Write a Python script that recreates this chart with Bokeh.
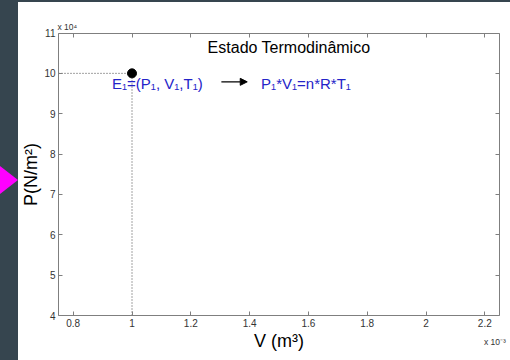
from bokeh.plotting import figure
from bokeh.models import (Range1d, FixedTicker, CustomJSTickFormatter, LinearAxis,
                          Label, Arrow, NormalHead, Div)
from bokeh.layouts import row, column
from bokeh.embed import file_html
from bokeh.resources import INLINE

# ---- data ----
V_state = [1.0e-3]          # V1 (m^3)
P_state = [1.0e5]           # P1 (N/m^2)
x_ticks = [0.8e-3, 1.0e-3, 1.2e-3, 1.4e-3, 1.6e-3, 1.8e-3, 2.0e-3, 2.2e-3]
y_ticks = [4e4, 5e4, 6e4, 7e4, 8e4, 9e4, 10e4, 11e4]
x_lim = [0.75e-3, 2.25e-3]
y_lim = [4e4, 11e4]
title_text = "Estado Termodinâmico"
state_text = "E₁=(P₁, V₁,T₁)"
eq_text = "P₁*V₁=n*R*T₁"
x_label = "V (m³)"
y_label = "P(N/m²)"
x_mult = "x 10⁻³"
y_mult = "x 10⁴"

FONT = "Liberation Sans"
DARK = "#36454f"
GRAY = "#7f7f7f"
BLUE = "#2424c8"

# ---- layout geometry (pixels of the axes box inside the chart canvas) ----
W, H = 492, 358
BOX_L, BOX_R, BOX_T, BOX_B = 40, 481, 30.5, 313
sx = (x_lim[1] - x_lim[0]) / (BOX_R - BOX_L)
sy = (y_lim[1] - y_lim[0]) / (BOX_B - BOX_T)
x_range = Range1d(x_lim[0] - BOX_L * sx, x_lim[1] + (W - BOX_R) * sx)
y_range = Range1d(y_lim[0] - (H - BOX_B) * sy, y_lim[1] + BOX_T * sy)

# ---- dark page strips with the magenta pointer ----
pointer = ('<div style="margin:0;padding:0;position:absolute;left:0;top:166px;width:0;height:0;'
           'border-top:14px solid transparent;border-bottom:14px solid transparent;'
           'border-left:18px solid #ff00ff;"></div>')
side = Div(text=pointer, width=18, height=360, margin=0,
           styles={"background-color": DARK, "position": "relative", "overflow": "hidden"})
top_strip = Div(text="", width=W, height=2, margin=0,
                styles={"background-color": DARK})

# ---- main chart ----
p = figure(width=W, height=H, x_range=x_range, y_range=y_range,
           output_backend="svg", toolbar_location=None, min_border=0,
           min_border_left=0, min_border_right=0, min_border_top=0, min_border_bottom=0)
p.grid.visible = False
p.background_fill_color = "white"
p.border_fill_color = "white"
p.outline_line_color = None

xfmt = CustomJSTickFormatter(code="return String(Math.round(tick*1e4)/10);")
yfmt = CustomJSTickFormatter(code="return String(Math.round(tick/1e4));")
blank = CustomJSTickFormatter(code="return '';")


def style(ax, ticks, fmt):
    ax.ticker = FixedTicker(ticks=ticks)
    ax.formatter = fmt
    ax.major_tick_in = 4
    ax.major_tick_out = 0
    ax.minor_tick_line_color = None
    ax.axis_line_color = GRAY
    ax.major_tick_line_color = GRAY
    ax.major_label_text_font = FONT
    ax.major_label_text_font_size = "10px"
    ax.major_label_text_color = "#333333"
    ax.axis_label_text_font = FONT
    ax.axis_label_text_font_style = "normal"
    ax.axis_label_text_font_size = "18px"
    ax.axis_label_text_color = "black"


xa = p.xaxis[0]
ya = p.yaxis[0]
style(xa, x_ticks, xfmt)
style(ya, y_ticks, yfmt)
xa.fixed_location = y_lim[0]
xa.bounds = (x_lim[0], x_lim[1])
ya.fixed_location = x_lim[0]
ya.bounds = (y_lim[0], y_lim[1])
xa.axis_label = x_label
xa.major_label_standoff = 3
xa.axis_label_standoff = 1
ya.axis_label = y_label
ya.major_label_standoff = 3
ya.axis_label_standoff = 0

# box ticks on top and right
top_ax = LinearAxis()
right_ax = LinearAxis()
style(top_ax, x_ticks, blank)
style(right_ax, y_ticks, blank)
top_ax.fixed_location = y_lim[1]
top_ax.bounds = (x_lim[0], x_lim[1])
top_ax.major_label_standoff = 0
right_ax.fixed_location = x_lim[1]
right_ax.bounds = (y_lim[0], y_lim[1])
right_ax.major_label_standoff = 0
p.add_layout(top_ax, "above")
p.add_layout(right_ax, "right")

# dotted guide lines to the axes
p.line(x=[x_lim[0], V_state[0]], y=[P_state[0], P_state[0]],
       line_color="#444444", line_dash="1 2", line_width=1)
p.line(x=[V_state[0], V_state[0]], y=[y_lim[0], P_state[0]],
       line_color="#444444", line_dash="1 2", line_width=1)

# state point
p.scatter(x=V_state, y=P_state, size=9, fill_color="black", line_color="black")

# annotations
p.add_layout(Label(x=1.534e-3, y=10.64e4, text=title_text, text_align="center",
                   text_baseline="middle", text_font=FONT, text_font_size="16px",
                   text_color="black"))
p.add_layout(Label(x=0.932e-3, y=9.75e4, text=state_text, text_align="left",
                   text_baseline="alphabetic", text_font=FONT, text_font_size="15px",
                   text_color=BLUE))
p.add_layout(Arrow(x_start=1.304e-3, y_start=9.79e4, x_end=1.392e-3, y_end=9.79e4,
                   line_color="black", line_width=1.2,
                   end=NormalHead(size=7, fill_color="black", line_color="black")))
p.add_layout(Label(x=1.439e-3, y=9.75e4, text=eq_text, text_align="left",
                   text_baseline="alphabetic", text_font=FONT, text_font_size="15px",
                   text_color=BLUE))
# axis multipliers
p.add_layout(Label(x=x_lim[0] - 1 * sx, y=y_lim[1] + 6.5 * sy, text=y_mult,
                   text_align="left", text_baseline="middle", text_font=FONT,
                   text_font_size="8.5px", text_color="#333333"))
p.add_layout(Label(x=2.197e-3, y=y_lim[0] - 26 * sy, text=x_mult,
                   text_align="left", text_baseline="middle", text_font=FONT,
                   text_font_size="8.5px", text_color="#333333"))

layout = row(side, column(top_strip, p, spacing=0), spacing=0)
open("out.html", "w").write(file_html(layout, INLINE))
